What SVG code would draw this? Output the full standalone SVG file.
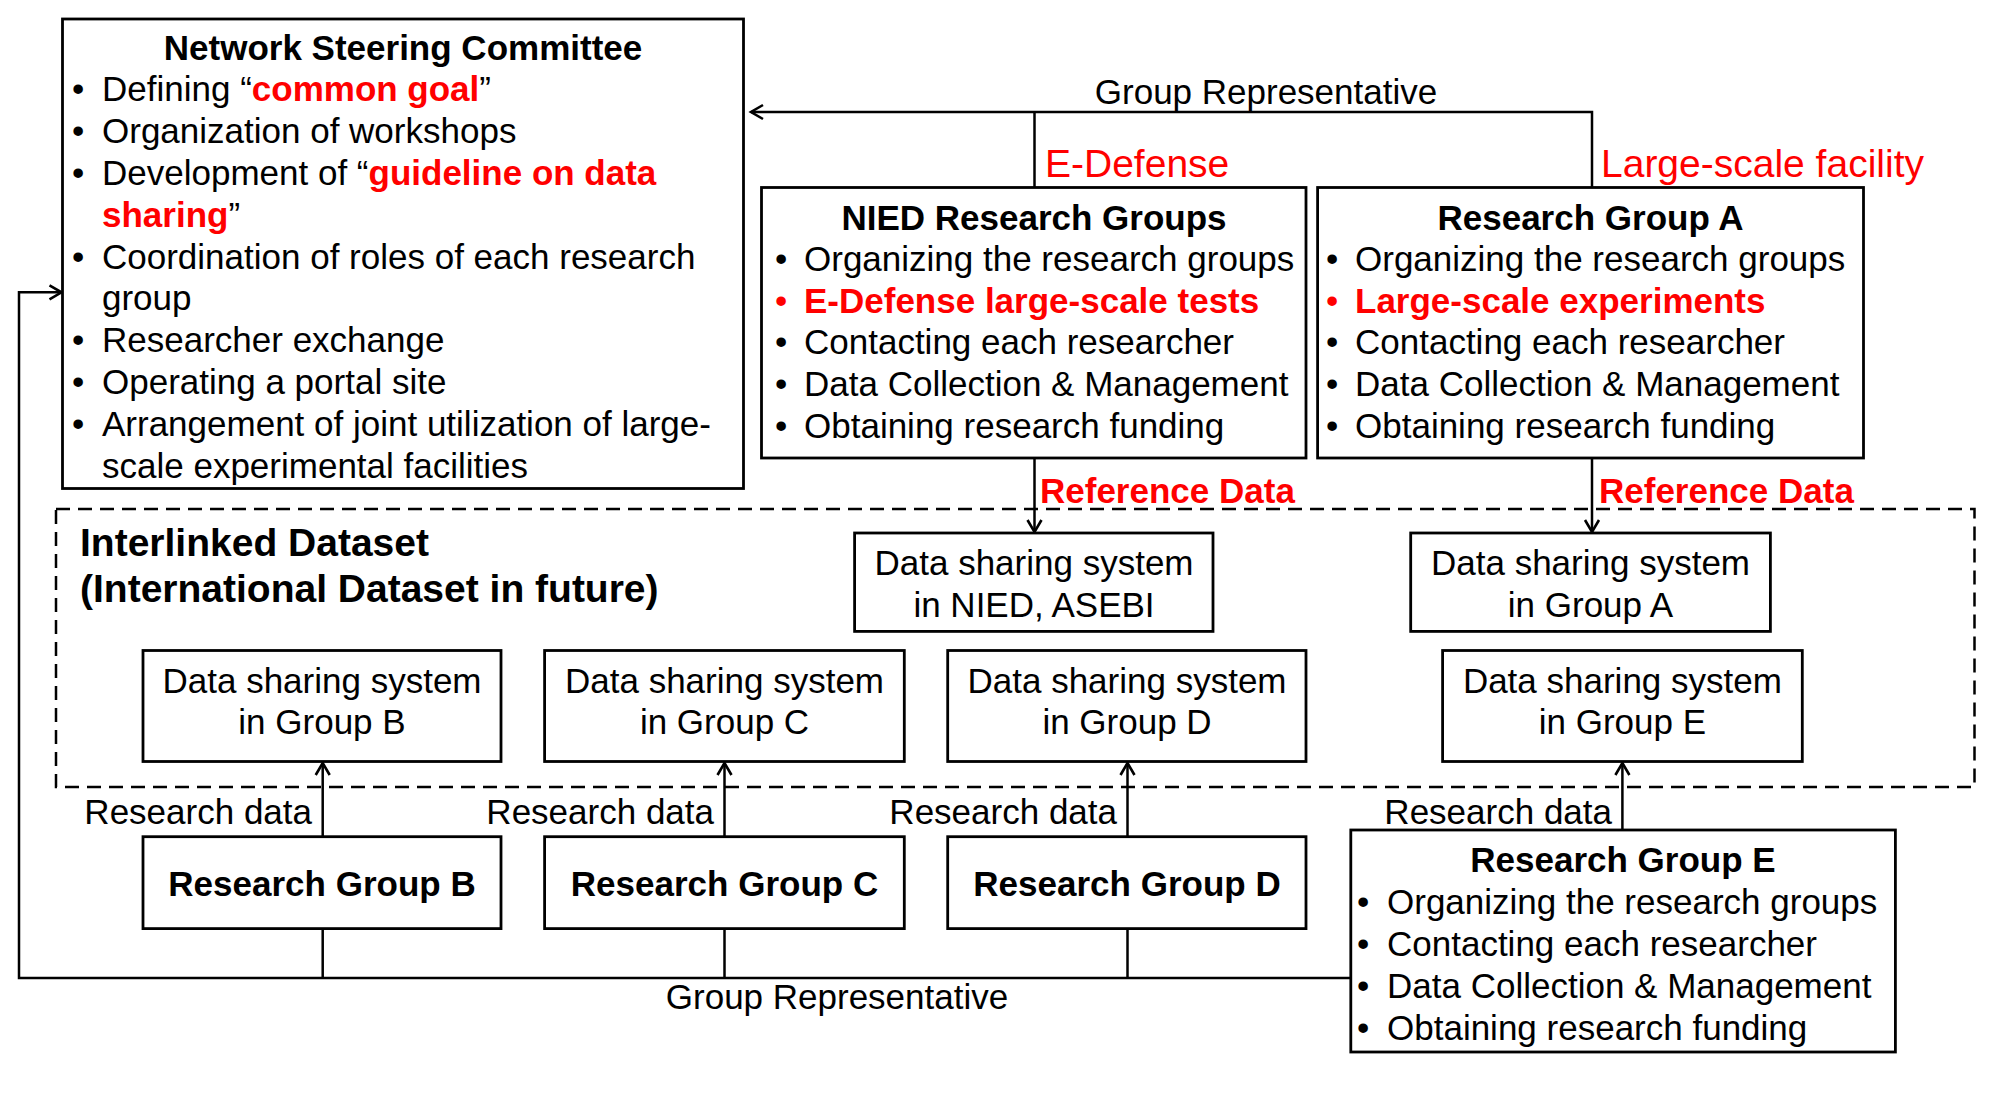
<svg xmlns="http://www.w3.org/2000/svg" width="2000" height="1097" viewBox="0 0 2000 1097">
<style>
text{font-family:"Liberation Sans",Arial,sans-serif;font-size:35px;fill:#000}
.b{font-weight:bold}
.r{fill:#ff0000}
.c{text-anchor:middle}
.e{text-anchor:end}
.big{font-size:39px}
.box{fill:#fff;stroke:#000;stroke-width:2.8}
.ln{fill:none;stroke:#000;stroke-width:2.5}
</style>
<defs>
<marker id="ah" markerUnits="userSpaceOnUse" markerWidth="20" markerHeight="20" refX="0" refY="0" viewBox="-14 -10 16 20" orient="auto">
<path d="M-12,-7 L0,0 L-12,7" fill="none" stroke="#000" stroke-width="2.6"/>
</marker>
</defs>
<rect width="2000" height="1097" fill="#fff"/>

<g id="dataset-area">
<rect x="56" y="509" width="1918.5" height="278" fill="none" stroke="#000" stroke-width="2.5" stroke-dasharray="14 8"/>
<text class="b big" x="80" y="556">Interlinked Dataset</text>
<text class="b big" x="80" y="602">(International Dataset in future)</text>
</g>

<g id="connectors">
<path class="ln" d="M1592,187.5 V112 H751" marker-end="url(#ah)"/>
<path class="ln" d="M1034.5,187.5 V112"/>
<path class="ln" d="M1034.5,458 V532" marker-end="url(#ah)"/>
<path class="ln" d="M1592,458 V532" marker-end="url(#ah)"/>
<path class="ln" d="M322.7,836.7 V763" marker-end="url(#ah)"/>
<path class="ln" d="M724.5,836.7 V763" marker-end="url(#ah)"/>
<path class="ln" d="M1127.5,836.7 V763" marker-end="url(#ah)"/>
<path class="ln" d="M1622.4,830 V763" marker-end="url(#ah)"/>
<path class="ln" d="M322.7,928.6 V978 M724.5,928.6 V978 M1127.5,928.6 V978"/>
<path class="ln" d="M1350.8,978 H19 V292.3 H61.5" marker-end="url(#ah)"/>
<text class="c" x="1266" y="104">Group Representative</text>
<text class="c" x="837" y="1009">Group Representative</text>
<text class="r big" x="1045" y="177">E-Defense</text>
<text class="r big" x="1601" y="177">Large-scale facility</text>
<text class="r b" x="1040" y="503">Reference Data</text>
<text class="r b" x="1599" y="503">Reference Data</text>
<text class="e" x="312" y="824">Research data</text>
<text class="e" x="714" y="824">Research data</text>
<text class="e" x="1117" y="824">Research data</text>
<text class="e" x="1612" y="824">Research data</text>
</g>

<g id="steering-committee">
<rect class="box" x="62.5" y="19" width="681" height="469.5"/>
<text class="b c" x="403" y="59.5">Network Steering Committee</text>
<text x="72" y="100.5">•</text><text x="102" y="100.5">Defining “<tspan class="r b">common goal</tspan>”</text>
<text x="72" y="142.5">•</text><text x="102" y="142.5">Organization of workshops</text>
<text x="72" y="184.5">•</text><text x="102" y="184.5">Development of “<tspan class="r b">guideline on data</tspan></text>
<text x="102" y="226.5"><tspan class="r b">sharing</tspan>”</text>
<text x="72" y="268.5">•</text><text x="102" y="268.5">Coordination of roles of each research</text>
<text x="102" y="310">group</text>
<text x="72" y="352">•</text><text x="102" y="352">Researcher exchange</text>
<text x="72" y="394">•</text><text x="102" y="394">Operating a portal site</text>
<text x="72" y="436">•</text><text x="102" y="436">Arrangement of joint utilization of large-</text>
<text x="102" y="478">scale experimental facilities</text>
</g>

<g id="nied-groups">
<rect class="box" x="761.5" y="187.5" width="544.5" height="270.5"/>
<text class="b c" x="1034" y="229.5">NIED Research Groups</text>
<text x="775" y="270.5">•</text><text x="804" y="270.5">Organizing the research groups</text>
<text class="r" x="775" y="312.5">•</text><text class="r b" x="804" y="312.5">E-Defense large-scale tests</text>
<text x="775" y="354">•</text><text x="804" y="354">Contacting each researcher</text>
<text x="775" y="395.5">•</text><text x="804" y="395.5">Data Collection &amp; Management</text>
<text x="775" y="437.5">•</text><text x="804" y="437.5">Obtaining research funding</text>
</g>

<g id="group-a">
<rect class="box" x="1317.6" y="187.5" width="545.9" height="270.5"/>
<text class="b c" x="1590.5" y="229.5">Research Group A</text>
<text x="1326" y="270.5">•</text><text x="1355" y="270.5">Organizing the research groups</text>
<text class="r" x="1326" y="312.5">•</text><text class="r b" x="1355" y="312.5">Large-scale experiments</text>
<text x="1326" y="354">•</text><text x="1355" y="354">Contacting each researcher</text>
<text x="1326" y="395.5">•</text><text x="1355" y="395.5">Data Collection &amp; Management</text>
<text x="1326" y="437.5">•</text><text x="1355" y="437.5">Obtaining research funding</text>
</g>

<g id="ds-nied">
<rect class="box" x="854.6" y="533" width="358.4" height="98.4"/>
<text class="c" x="1034" y="575">Data sharing system</text>
<text class="c" x="1034" y="617">in NIED, ASEBI</text>
</g>
<g id="ds-a">
<rect class="box" x="1410.7" y="533" width="359.7" height="98.4"/>
<text class="c" x="1590.5" y="575">Data sharing system</text>
<text class="c" x="1590.5" y="617">in Group A</text>
</g>
<g id="ds-b">
<rect class="box" x="143" y="650.5" width="358" height="111"/>
<text class="c" x="322" y="693">Data sharing system</text>
<text class="c" x="322" y="734">in Group B</text>
</g>
<g id="ds-c">
<rect class="box" x="544.6" y="650.5" width="359.7" height="111"/>
<text class="c" x="724.5" y="693">Data sharing system</text>
<text class="c" x="724.5" y="734">in Group C</text>
</g>
<g id="ds-d">
<rect class="box" x="947.7" y="650.5" width="358.3" height="111"/>
<text class="c" x="1127" y="693">Data sharing system</text>
<text class="c" x="1127" y="734">in Group D</text>
</g>
<g id="ds-e">
<rect class="box" x="1442.6" y="650.5" width="359.7" height="111"/>
<text class="c" x="1622.4" y="693">Data sharing system</text>
<text class="c" x="1622.4" y="734">in Group E</text>
</g>

<g id="group-b">
<rect class="box" x="143" y="836.7" width="358" height="91.9"/>
<text class="b c" x="322" y="896">Research Group B</text>
</g>
<g id="group-c">
<rect class="box" x="544.6" y="836.7" width="359.7" height="91.9"/>
<text class="b c" x="724.5" y="896">Research Group C</text>
</g>
<g id="group-d">
<rect class="box" x="947.7" y="836.7" width="358.3" height="91.9"/>
<text class="b c" x="1127" y="896">Research Group D</text>
</g>
<g id="group-e">
<rect class="box" x="1350.8" y="830" width="544.6" height="222"/>
<text class="b c" x="1623" y="871.5">Research Group E</text>
<text x="1357" y="913.5">•</text><text x="1387" y="913.5">Organizing the research groups</text>
<text x="1357" y="955.5">•</text><text x="1387" y="955.5">Contacting each researcher</text>
<text x="1357" y="997.5">•</text><text x="1387" y="997.5">Data Collection &amp; Management</text>
<text x="1357" y="1039.5">•</text><text x="1387" y="1039.5">Obtaining research funding</text>
</g>
</svg>
